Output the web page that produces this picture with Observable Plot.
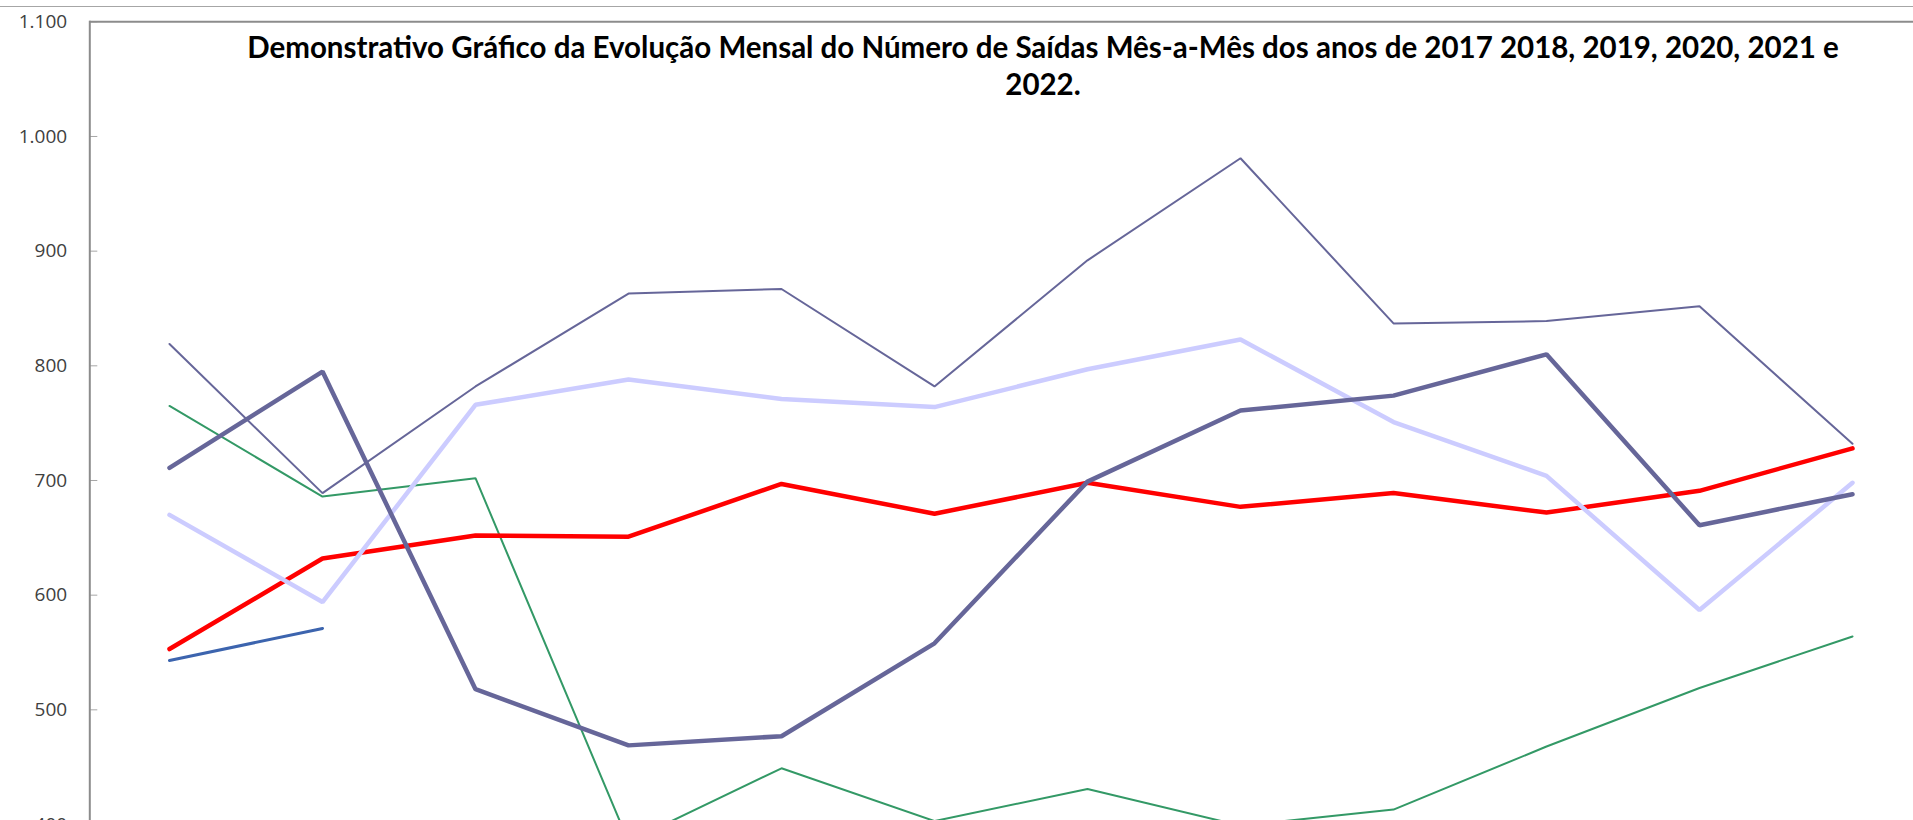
<!DOCTYPE html>
<html>
<head>
<meta charset="utf-8">
<script src="https://cdn.jsdelivr.net/npm/d3@7"></script>
<script src="https://cdn.jsdelivr.net/npm/@observablehq/plot@0.6"></script>
<style>
  html, body { margin: 0; padding: 0; background: #fff; overflow: hidden; }
  #wrap { position: relative; width: 1913px; height: 820px; overflow: hidden; }
  #topline { position: absolute; left: 0; top: 6px; width: 1913px; border-top: 1px solid #a6a6a6; }
  #chart { position: absolute; left: 0; top: 0; }
  #title { position: absolute; left: 143px; width: 1800px; top: 29px; text-align: center;
           font-family: Lato, "Open Sans", sans-serif; font-weight: 700; font-size: 29.5px;
           line-height: 36.6px; color: #000; white-space: nowrap; }
</style>
</head>
<body>
<div id="wrap">
  <div id="topline"></div>
  <div id="chart"></div>
  <div id="title">Demonstrativo Gráfico da Evolução Mensal do Número de Saídas Mês-a-Mês dos anos de 2017 2018, 2019, 2020, 2021 e<br>2022.</div>
</div>
<script>
const months = ["jan", "fev", "mar", "abr", "mai", "jun", "jul", "ago", "set", "out", "nov", "dez"];

const s2017 = [819, 689, 782, 863, 867, 782, 892, 981, 837, 839, 852, 732];
const s2018 = [670, 594, 766, 788, 771, 764, 797, 823, 751, 704, 587, 698];
const s2019 = [553, 632, 652, 651, 697, 671, 698, 677, 689, 672, 691, 728];
const s2020 = [765, 686, 702, 385, 449, 403, 431, 399, 413, 468, 519, 564];
const s2021 = [711, 795, 518, 469, 477, 558, 699, 761, 774, 810, 661, 688];
const s2022 = [543, 571];

const yTicks = [400, 500, 600, 700, 800, 900, 1000, 1100];
const yTickLabels = ["400", "500", "600", "700", "800", "900", "1.000", "1.100"];

const seriesStyle = [
  {name: "2020", values: s2020, stroke: "#339966", width: 2},
  {name: "2017", values: s2017, stroke: "#666699", width: 2},
  {name: "2019", values: s2019, stroke: "#ff0000", width: 4.5},
  {name: "2018", values: s2018, stroke: "#ccccff", width: 4.5},
  {name: "2021", values: s2021, stroke: "#666699", width: 4.5},
  {name: "2022", values: s2022, stroke: "#3c64ae", width: 3}
];

const lineMarks = seriesStyle.map(s =>
  Plot.line(s.values.map((v, i) => ({month: months[i], value: v})), {
    x: "month", y: "value", stroke: s.stroke, strokeWidth: s.width,
    strokeLinejoin: "miter", strokeLinecap: "round"
  })
);

const font = "'Open Sans', sans-serif";

const chart = Plot.plot({
  width: 1913,
  height: 824,
  marginLeft: 89.3,
  marginRight: -18,
  marginTop: 21.3,
  marginBottom: 0,
  style: {background: "transparent", overflow: "visible"},
  x: {type: "point", domain: months, padding: 0.5, axis: null},
  y: {domain: [400, 1100], axis: null},
  marks: [
    Plot.axisY(yTicks, {tickSize: -8, tickFormat: () => "", stroke: "#a6a6a6", label: null}),
    Plot.axisY(yTicks, {tickSize: 0, tickPadding: 22.6, label: null,
      tickFormat: d => yTickLabels[yTicks.indexOf(d)],
      fontSize: 19, fontFamily: font, fill: "#404040"}),
    ...lineMarks,
    Plot.ruleY([1100], {stroke: "#8c8c8c", strokeWidth: 2}),
    Plot.frame({anchor: "left", stroke: "#8c8c8c", strokeWidth: 2})
  ]
});
document.getElementById("chart").appendChild(chart);
</script>
</body>
</html>
